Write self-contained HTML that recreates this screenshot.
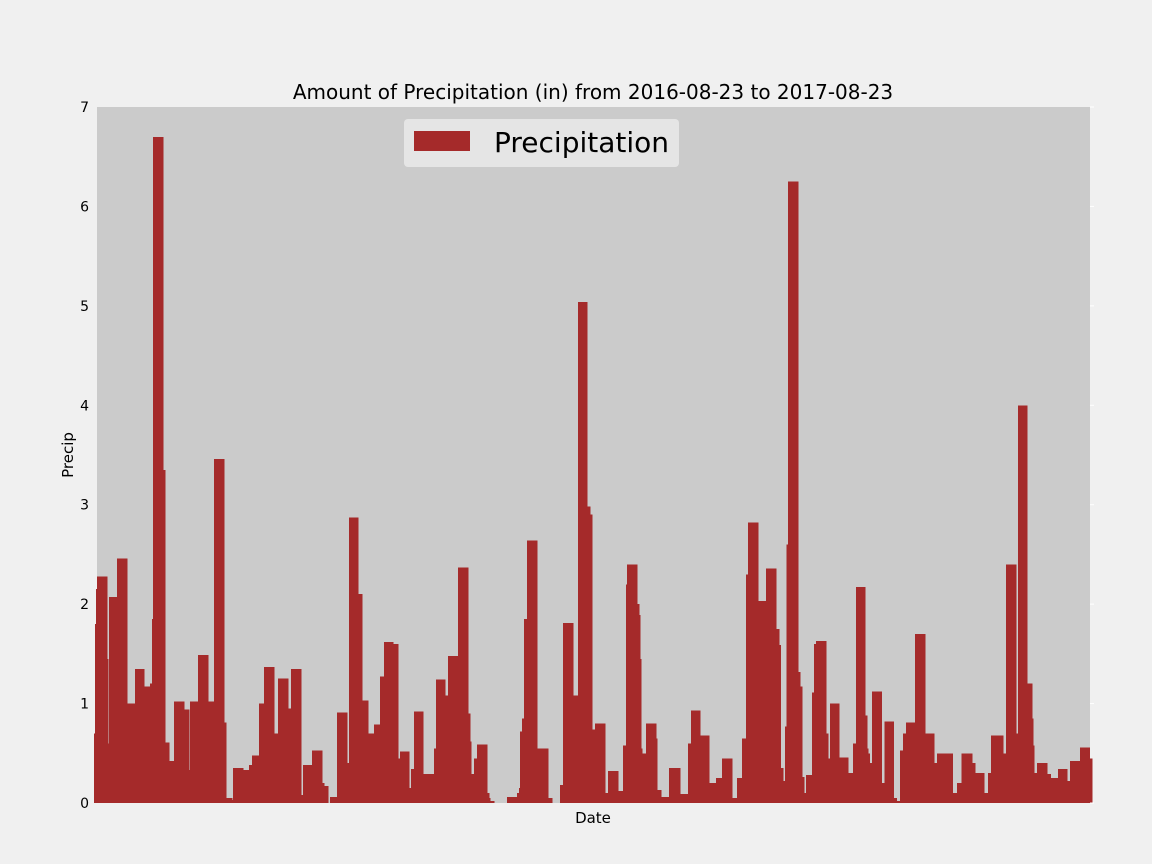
<!DOCTYPE html>
<html><head><meta charset="utf-8"><style>
html,body{margin:0;padding:0;background:#f0f0f0;}
svg{display:block;font-family:"DejaVu Sans","Liberation Sans",sans-serif;}
</style></head><body>
<svg id="chart" width="1152" height="864" viewBox="0 0 1152 864">
<rect x="0" y="0" width="1152" height="864" fill="#f0f0f0"/>
<rect x="97" y="107" width="993" height="696" fill="#cbcbcb"/>
<g id="bars" shape-rendering="crispEdges"></g>
<g id="yaxis"></g>
<text x="593" y="99" font-size="20" text-anchor="middle" fill="#000">Amount of Precipitation (in) from 2016-08-23 to 2017-08-23</text>
<text x="593" y="823" font-size="15" text-anchor="middle" fill="#000">Date</text>
<text x="73" y="455" font-size="15" text-anchor="middle" fill="#000" transform="rotate(-90 73 455)">Precip</text>
<g>
<rect x="404" y="119" width="275" height="48" rx="4" fill="#e5e5e5"/>
<rect x="414" y="131" width="56" height="20" fill="#a52a2a"/>
<text x="494" y="152" font-size="28" fill="#000">Precipitation</text>
</g>
</svg>
<script>
const startDay=[0,0.4,0.7,1.1,4.8,5.1,5.5,8.4,12.1,15,18.3,20.5,21.2,21.6,25.3,26,27.5,29.3,33,34.8,35.2,38.1,41.8,44,47.6,48.4,50.5,50.9,54.6,56.8,57.9,60.4,62.3,65.9,67.4,71.1,72.2,75.8,76.6,79.9,83.5,84.2,85.7,86.4,89,92.7,93.4,96.7,98.2,100.4,102.6,104.8,106.2,109.5,111.4,112.1,115.4,116.1,117.2,120.5,124.5,125.3,128.6,129.7,133.3,137,137.7,138.1,139.2,140.3,144,144.7,145.1,146.5,151.3,154.9,155.7,156,156.8,157.5,158.6,162.3,166.3,167.8,170.7,171.8,175.5,177.3,180.6,181.7,182.4,183.5,187.2,188.3,191.9,193.8,194.9,195.2,198.9,199.6,200,200.4,200.7,202.2,205.9,206.2,207.7,210.6,214.7,217.6,218.7,222,225.3,227.8,230,233.7,235.5,237.4,238.8,239.6,243.2,246.2,249.8,250.9,251.6,252.4,253.1,253.8,254.2,257.9,258.6,259.3,260.1,260.8,263,263.7,264.5,268.1,268.9,269.6,272.9,276.2,278,279.1,282.4,283.2,283.5,284.2,285,288.6,289.7,293,294.1,295.2,296.3,297.4,300.7,304.4,307.7,308.8,314.6,316.1,317.9,321.6,322.7,326,327.5,328.6,333,334.1,337.7,338.5,341.8,343.6,344,344.3,345.4,349.1,350.5,353.1,356.4,357.5,361.2,364.8,365.6];
const precip=[0.7,1.8,2.15,2.28,1.45,0.6,2.07,2.46,1.0,1.35,1.17,1.2,1.85,6.7,3.35,0.61,0.42,1.02,0.94,0.33,1.02,1.49,1.02,3.46,0.81,0.05,0.03,0.35,0.33,0.38,0.48,1.0,1.37,0.7,1.25,0.95,1.35,0.08,0.38,0.53,0.2,0.17,0,0.06,0.91,0.4,2.87,2.1,1.03,0.7,0.79,1.27,1.62,1.6,0.45,0.52,0.15,0.34,0.92,0.29,0.55,1.24,1.08,1.48,2.37,0.9,0.62,0.29,0.45,0.59,0.1,0.05,0.02,0,0.06,0.1,0.15,0.72,0.85,1.85,2.64,0.55,0.05,0,0.18,1.81,1.08,5.04,2.98,2.9,0.74,0.8,0.1,0.32,0.12,0.58,2.2,2.4,2.0,1.89,1.45,0.55,0.5,0.8,0.65,0.13,0.06,0.35,0.09,0.6,0.93,0.68,0.2,0.25,0.45,0.05,0.25,0.65,2.3,2.82,2.03,2.36,1.75,1.59,0.35,0.22,0.77,2.6,6.25,1.32,1.17,0.26,0.1,0.28,1.11,1.6,1.63,0.7,0.45,1.0,0.46,0.3,0.6,2.17,0.88,0.55,0.5,0.4,1.12,0.2,0.82,0.05,0.02,0.53,0.7,0.81,1.7,0.7,0.4,0.5,0.1,0.2,0.5,0.4,0.3,0.1,0.3,0.68,0.5,2.4,0.7,4.0,1.2,0.85,0.58,0.3,0.4,0.29,0.25,0.34,0.22,0.42,0.56,0.45];
const yTicks=[0,1,2,3,4,5,6,7];
const totalDays=366;
const NS="http://www.w3.org/2000/svg";
function xScale(d){return 94+d*(999/366);}
function yScale(v){return 803-v*(696/7);}
const bars=document.getElementById('bars');
for(let i=0;i<precip.length;i++){
  const x0=xScale(startDay[i]);
  const x1=xScale(i+1<startDay.length?startDay[i+1]:totalDays);
  const r=document.createElementNS(NS,'rect');
  r.setAttribute('x',x0);
  r.setAttribute('width',Math.max(0.6,x1-x0+0.5));
  r.setAttribute('y',yScale(precip[i]));
  r.setAttribute('height',803-yScale(precip[i]));
  r.setAttribute('fill','#a52a2a');
  
  
  bars.appendChild(r);
}
const ya=document.getElementById('yaxis');
yTicks.forEach(t=>{
  const y=yScale(t);
  const tx=document.createElementNS(NS,'text');
  tx.setAttribute('x',89);tx.setAttribute('y',y+5);
  tx.setAttribute('font-size','14');tx.setAttribute('text-anchor','end');
  tx.textContent=t;
  
  
  ya.appendChild(tx);
  const ln=document.createElementNS(NS,'line');
  ln.setAttribute('x1',1090);ln.setAttribute('x2',1094);ln.setAttribute('y1',y);ln.setAttribute('y2',y);
  ln.setAttribute('stroke','#ffffff');
  
  
  ya.appendChild(ln);
});
</script>
</body></html>
